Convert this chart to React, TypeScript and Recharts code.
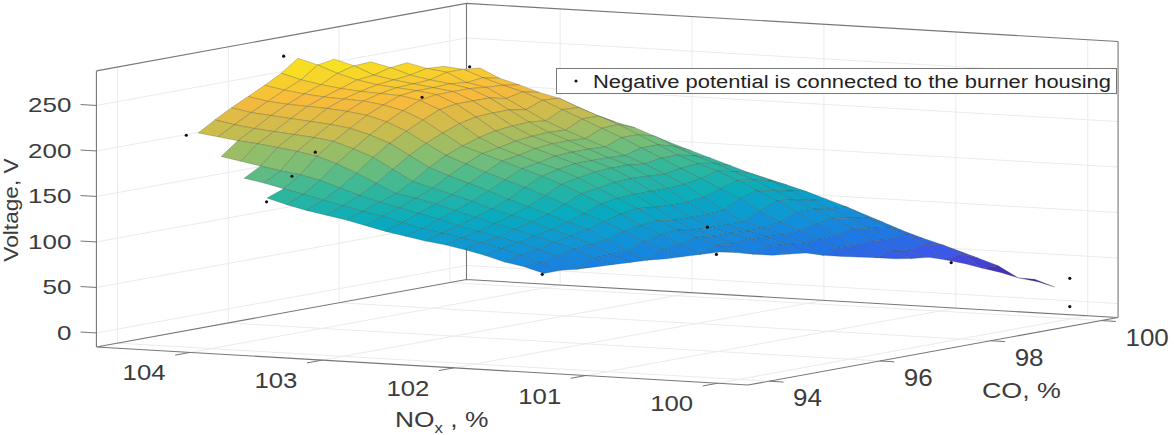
import React from "react";
import { ScatterChart, Scatter, XAxis, YAxis, Legend } from "recharts";

const W = 1174;
const H = 435;

// axis limits and ticks
const NOX_LIM = [99.77, 104.71];
const CO_LIM = [93.62, 100.3];
const V_LIM = [-15.4, 288];
const NOX_TICKS = [100, 101, 102, 103, 104];
const CO_TICKS = [94, 96, 98, 100];
const V_TICKS = [0, 50, 100, 150, 200, 250];

// measured points: NOx, CO, Voltage
const PT_NOX = [104.23, 104.5, 103.93, 103.27, 103.5, 103.45, 103.42, 101.33, 101.38, 100.9, 100.3, 100.01, 100.01];
const PT_CO = [94.1, 96.5, 98.5, 96.07, 94.69, 94.15, 93.62, 93.62, 96.72, 95.74, 98.55, 100, 100];
const PT_V = [216, 274, 245, 244, 197, 177, 155, 93, 110, 95, 60, 29, -2];

// fitted surface: grid columns, rows, first valid column of each row, voltages
const GRID_NOX = [100, 100.15, 100.3, 100.45, 100.6, 100.75, 100.9, 101.05, 101.2, 101.35, 101.5, 101.65, 101.8, 101.95, 102.1, 102.25, 102.4, 102.55, 102.7, 102.85, 103, 103.15, 103.3, 103.45, 103.6, 103.75, 103.9, 104.05, 104.2, 104.35, 104.5];
const GRID_CO = [93.7, 94, 94.3, 94.6, 94.9, 95.2, 95.5, 95.8, 96.1, 96.4, 96.7, 97, 97.3, 97.6, 97.9, 98.2, 98.5, 98.8, 99.1, 99.4, 99.7];
const ROW_START = [9, 9, 8, 8, 8, 7, 7, 6, 6, 5, 5, 5, 4, 4, 3, 3, 3, 2, 1, 0, 0];
const GRID_V = [
  [93, 99, 103, 109, 114, 118, 121, 125, 129, 134, 139, 143, 147, 152, 158],
  [93, 100, 107, 113, 118, 122, 126, 130, 135, 141, 145, 150, 155, 160, 165, 170, 174],
  [95, 91, 104, 110, 116, 121, 126, 131, 137, 142, 147, 152, 158, 165, 172, 177, 180, 184, 188, 192],
  [94, 100, 108, 114, 120, 126, 131, 137, 143, 149, 154, 158, 168, 178, 187, 194, 198, 201, 204, 206, 209, 212],
  [93, 100, 110, 118, 124, 131, 137, 143, 150, 156, 162, 168, 180, 192, 200, 207, 210, 212, 214, 216, 219, 223],
  [95, 92, 101, 112, 122, 129, 136, 143, 150, 158, 165, 172, 180, 192, 204, 212, 218, 221, 223, 225, 227, 229, 233],
  [94, 100, 108, 118, 127, 135, 144, 152, 160, 167, 174, 182, 190, 202, 214, 223, 229, 232, 234, 235, 236, 238, 242],
  [97, 93, 103, 112, 121, 132, 142, 152, 161, 169, 176, 183, 190, 197, 210, 223, 232, 237, 240, 241, 242, 244, 247, 251],
  [93, 100, 107, 114, 123, 135, 145, 155, 165, 173, 179, 186, 193, 203, 217, 231, 240, 244, 245, 246, 248, 251, 255, 261],
  [88, 88, 98, 105, 111, 120, 133, 146, 158, 168, 176, 183, 190, 197, 207, 221, 234, 243, 246, 248, 250, 254, 260, 268, 274],
  [86, 94, 100, 105, 110, 120, 132, 146, 159, 169, 176, 184, 192, 199, 209, 222, 234, 243, 246, 249, 252, 256, 265, 271],
  [84, 92, 99, 104, 110, 120, 132, 146, 158, 169, 176, 184, 192, 200, 210, 222, 234, 243, 247, 250, 254, 261, 266],
  [78, 78, 90, 98, 104, 110, 121, 134, 147, 157, 167, 175, 183, 191, 199, 208, 219, 230, 241, 245, 255, 258, 263],
  [74, 83, 91, 99, 107, 118, 131, 140, 150, 160, 170, 180, 190, 199, 208, 217, 226, 234, 240, 247, 255, 257],
  [70, 70, 82, 92, 103, 115, 126, 136, 146, 155, 162, 170, 180, 190, 200, 208, 216, 225, 230, 237, 243, 253],
  [67, 74, 84, 96, 106, 115, 124, 133, 143, 151, 159, 166, 175, 185, 193, 198, 204, 213],
  [65, 71, 82, 93, 103, 112, 120, 129, 139, 146, 153, 160, 167, 174],
  [56, 59, 75, 84, 91, 100, 111, 118, 125, 131, 137],
  [44, 48, 62, 71, 77, 84, 92, 100],
  [32, 35, 47, 54, 61],
  [23, 30],
];

// colour scale
const CLIM = [35, 290];
const PARULA = [
  [62, 38, 168], [68, 78, 235], [30, 118, 230], [16, 148, 215], [8, 172, 190],
  [50, 184, 155], [127, 190, 115], [200, 188, 80], [248, 186, 60], [248, 222, 35], [249, 250, 20],
];

// orthographic view of the 3-D box, used to place everything on the plane
const project = (n: number, c: number, v: number) => ({
  sx: 748 - 131.9 * (n - NOX_LIM[0]) + 55.4 * (c - CO_LIM[0]),
  sy: 371 - 7.7 * (n - NOX_LIM[0]) - 10.1 * (c - CO_LIM[0]) - 0.91 * v,
});

const colorOf = (v: number) => {
  const f = Math.max(0, Math.min(1, (v - CLIM[0]) / (CLIM[1] - CLIM[0]))) * (PARULA.length - 1);
  const i = Math.min(PARULA.length - 2, Math.floor(f));
  const t = f - i;
  const m = PARULA[i].map((a, j) => Math.round(a + (PARULA[i + 1][j] - a) * t));
  return `rgb(${m[0]},${m[1]},${m[2]})`;
};

// surface vertices
const vertices: { sx: number; sy: number; v: number }[] = [];
const vertexIndex: Record<string, number> = {};
GRID_V.forEach((row, r) =>
  row.forEach((v, i) => {
    const k = ROW_START[r] + i;
    vertexIndex[`${r}:${k}`] = vertices.length;
    vertices.push({ ...project(GRID_NOX[k], GRID_CO[r], v), v });
  })
);
const cells: number[][] = [];
for (let r = GRID_V.length - 2; r >= 0; r--) {
  for (let k = GRID_NOX.length - 2; k >= 0; k--) {
    const q = [`${r}:${k}`, `${r}:${k + 1}`, `${r + 1}:${k + 1}`, `${r + 1}:${k}`].map((s) => vertexIndex[s]);
    if (q.every((x) => x !== undefined)) cells.push(q);
  }
}

const SurfaceCells = (props: any) => {
  const pts = props.points;
  return (
    <g>
      {cells.map((q, i) => {
        const mean = q.reduce((a, b) => a + vertices[b].v, 0) / 4;
        return (
          <polygon
            key={i}
            points={q.map((j) => `${pts[j].x},${pts[j].y}`).join(" ")}
            fill={colorOf(mean)}
            stroke="#33402f"
            strokeOpacity={0.36}
            strokeWidth={0.7}
            strokeLinejoin="round"
          />
        );
      })}
    </g>
  );
};

// pairs of consecutive points are segments
const segmentRenderer = (color: string, width: number) => (props: any) => {
  const pts = props.points;
  let d = "";
  for (let i = 0; i + 1 < pts.length; i += 2) d += `M${pts[i].x},${pts[i].y}L${pts[i + 1].x},${pts[i + 1].y}`;
  return <path d={d} fill="none" stroke={color} strokeWidth={width} />;
};

const seg = (a: [number, number, number], b: [number, number, number]) => [project(...a), project(...b)];
const [n0, n1] = NOX_LIM;
const [c0, c1] = CO_LIM;
const [v0, v1] = V_LIM;

const gridSegments = [
  ...NOX_TICKS.flatMap((n) => [...seg([n, c0, v0], [n, c1, v0]), ...seg([n, c1, v0], [n, c1, v1])]),
  ...CO_TICKS.flatMap((c) => [...seg([n0, c, v0], [n1, c, v0]), ...seg([n1, c, v0], [n1, c, v1])]),
  ...V_TICKS.flatMap((v) => [...seg([n1, c0, v], [n1, c1, v]), ...seg([n1, c1, v], [n0, c1, v])]),
];
const boxSegments = [
  ...seg([n1, c0, v0], [n1, c0, v1]),
  ...seg([n1, c0, v1], [n1, c1, v1]),
  ...seg([n1, c1, v1], [n0, c1, v1]),
  ...seg([n0, c1, v1], [n0, c1, v0]),
  ...seg([n1, c1, v0], [n1, c1, v1]),
  ...seg([n1, c0, v0], [n0, c0, v0]),
  ...seg([n0, c0, v0], [n0, c1, v0]),
  ...seg([n1, c0, v0], [n1, c1, v0]),
  ...seg([n1, c1, v0], [n0, c1, v0]),
];
const tickSegments = [
  ...NOX_TICKS.flatMap((n) => seg([n, c0, v0], [n, c0 - 0.27, v0])),
  ...CO_TICKS.flatMap((c) => seg([n0, c, v0], [n0 - 0.11, c, v0])),
  ...V_TICKS.flatMap((v) => seg([n1, c0, v], [n1 + 0.12, c0, v])),
];

const points = PT_NOX.map((n, i) => project(n, PT_CO[i], PT_V[i]));
const noxLabels = NOX_TICKS.map((n) => ({ ...project(n, c0, v0), label: String(n) }));
const coLabels = CO_TICKS.map((c) => ({ ...project(n0, c, v0), label: String(c) }));
const vLabels = V_TICKS.map((v) => ({ ...project(n1, c0, v), label: String(v) }));

const TEXT = "#3c3c3c";
const FONT = "'Liberation Sans', Arial, sans-serif";
const Nothing = () => <g />;

const labelShape =
  (dx: number, dy: number, size: number, sx: number, anchor: "start" | "middle" | "end") => (p: any) =>
    (
      <text
        transform={`translate(${p.cx + dx},${p.cy + dy}) scale(${sx},1)`}
        fontFamily={FONT}
        fontSize={size}
        fill={TEXT}
        textAnchor={anchor}
      >
        {p.payload.label}
      </text>
    );

const axisTitles = [{ sx: 0, sy: 0 }];
const AxisTitles = (p: any) => (
  <g fontFamily={FONT} fill={TEXT}>
    <text transform={`translate(${p.cx + 18},${p.cy + 210}) rotate(-90) scale(1.08,1)`} fontSize={21} textAnchor="middle">
      Voltage, V
    </text>
    <text transform={`translate(${p.cx + 395},${p.cy + 427}) scale(1.2,1)`} fontSize={22}>
      NO
      <tspan fontSize={14} dy={6}>x</tspan>
      <tspan dy={-6}> , %</tspan>
    </text>
    <text transform={`translate(${p.cx + 982},${p.cy + 398}) scale(1.22,1)`} fontSize={22}>
      CO, %
    </text>
  </g>
);

const LegendBox = () => (
  <div style={{ width: 561, height: 26, boxSizing: "border-box", border: "1px solid #777", background: "#fff" }}>
    <svg width={559} height={24} style={{ display: "block" }}>
      <circle cx={19} cy={12} r={1.5} fill="#111" />
      <text x={36} y={19} fontFamily={FONT} fontSize={18} fill="#222" textLength={518} lengthAdjust="spacingAndGlyphs">
        Negative potential is connected to the burner housing
      </text>
    </svg>
  </div>
);

export default function App() {
  return (
    <div style={{ position: "absolute", left: 0, top: 0, width: W, height: H, overflow: "hidden", background: "#fff" }}>
      <ScatterChart width={W} height={H} margin={{ top: 0, right: 0, bottom: 0, left: 0 }}>
        <XAxis type="number" dataKey="sx" domain={[0, W]} hide allowDataOverflow />
        <YAxis type="number" dataKey="sy" domain={[0, H]} reversed hide allowDataOverflow />
        <Legend
          layout="horizontal"
          verticalAlign="middle"
          align="center"
          content={LegendBox}
          wrapperStyle={{ left: 556, top: 68, width: 561, height: 26, margin: 0 }}
        />
        <Scatter name="grid" data={gridSegments} isAnimationActive={false} shape={Nothing} line={segmentRenderer("#ebebeb", 1)} />
        <Scatter name="box" data={boxSegments} isAnimationActive={false} shape={Nothing} line={segmentRenderer("#777777", 1.1)} />
        <Scatter name="ticks" data={tickSegments} isAnimationActive={false} shape={Nothing} line={segmentRenderer("#777777", 1)} />
        <Scatter name="surface" data={vertices} isAnimationActive={false} shape={Nothing} line={SurfaceCells} />
        <Scatter
          name="Negative potential is connected to the burner housing"
          data={points}
          isAnimationActive={false}
          shape={(p: any) => <circle cx={p.cx} cy={p.cy} r={1.6} fill="#111" />}
        />
        <Scatter name="nox labels" data={noxLabels} isAnimationActive={false} shape={labelShape(-46, 28, 23, 1.12, "middle")} />
        <Scatter name="co labels" data={coLabels} isAnimationActive={false} shape={labelShape(24, 25, 23, 1.13, "start")} />
        <Scatter name="v labels" data={vLabels} isAnimationActive={false} shape={labelShape(-25, 7, 20, 1.3, "end")} />
        <Scatter name="titles" data={axisTitles} isAnimationActive={false} shape={AxisTitles} />
      </ScatterChart>
    </div>
  );
}
